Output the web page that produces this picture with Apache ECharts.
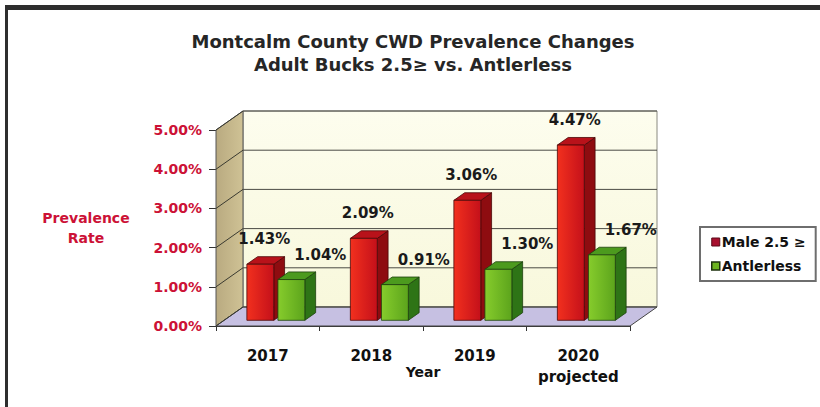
<!DOCTYPE html>
<html>
<head>
<meta charset="utf-8">
<script src="https://cdn.jsdelivr.net/npm/echarts@6/dist/echarts.min.js"></script>
<style>
  html, body { margin: 0; padding: 0; background: #ffffff; }
  #chart { width: 820px; height: 407px; }
</style>
</head>
<body>
<div id="chart"></div>
<script>
// Prevalence (%) by year
const years = ['2017', '2018', '2019', '2020\nprojected'];
const male = [1.43, 2.09, 3.06, 4.47];
const antlerless = [1.04, 0.91, 1.30, 1.67];
const seriesNames = ['Male 2.5 \u2265', 'Antlerless'];
const yMin = 0, yMax = 5, yStep = 1;

const FONT = '"DejaVu Sans", Verdana, sans-serif';
const RED_TEXT = '#cc1136';

// Pseudo-3D depth of the plot box (pixels from front plane to back wall)
const DEPTH = { x: 27, y: -19 };
const BAR_FRONT = 0.3;   // bar front face position within the depth
const BAR_DEPTH = 0.4;   // bar thickness as a share of the depth

const palettes = [
  { light: '#f2301e', dark: '#c4101a', side: '#8e0c10', top: '#b8121a', edge: '#4a0808' },
  { light: '#86cc2c', dark: '#5ca41c', side: '#2e7416', top: '#4c9a1e', edge: '#1c400c' }
];

const fmtPct = v => v.toFixed(2) + '%';

function wallsItem(params, api) {
  const cs = params.coordSys;
  const x = cs.x, y = cs.y, w = cs.width, h = cs.height;
  const dx = DEPTH.x, dy = DEPTH.y;
  const kids = [];
  // back wall
  kids.push({ type: 'rect', shape: { x: x + dx, y: y + dy, width: w, height: h },
    style: { fill: new echarts.graphic.LinearGradient(0, 0, 0, 1, [
      { offset: 0, color: '#fdfdee' }, { offset: 1, color: '#f8f8dc' }]),
      stroke: '#8a8a80', lineWidth: 1 } });
  // left side wall
  kids.push({ type: 'polygon', shape: { points: [[x, y + h], [x, y], [x + dx, y + dy], [x + dx, y + h + dy]] },
    style: { fill: new echarts.graphic.LinearGradient(0, 0, 1, 0, [
      { offset: 0, color: '#b9aa80' }, { offset: 1, color: '#cfc295' }]),
      stroke: '#555', lineWidth: 1 } });
  // floor
  kids.push({ type: 'polygon', shape: { points: [[x, y + h], [x + dx, y + h + dy], [x + w + dx, y + h + dy], [x + w, y + h]] },
    style: { fill: '#c6c0e2', stroke: '#444', lineWidth: 1 } });
  // gridlines on back wall and side wall
  for (let v = yMin; v <= yMax; v += yStep) {
    const py = api.coord([0, v])[1];
    kids.push({ type: 'line', shape: { x1: x + dx, y1: py + dy, x2: x + dx + w, y2: py + dy },
      style: { stroke: '#4a4a44', lineWidth: 1 } });
    kids.push({ type: 'line', shape: { x1: x, y1: py, x2: x + dx, y2: py + dy },
      style: { stroke: '#3a3a30', lineWidth: 1 } });
  }
  return { type: 'group', children: kids };
}

function barItem(sIdx) {
  const pal = palettes[sIdx];
  return function (params, api) {
    const cat = api.value(0), v = api.value(1);
    const band = api.size([1, 0])[0];
    const c = api.coord([cat, v]);
    const base = api.coord([cat, 0]);
    const w = band * 0.26, gap = band * 0.04;
    const fx = DEPTH.x * BAR_FRONT, fy = DEPTH.y * BAR_FRONT;
    const x0 = (sIdx === 0 ? c[0] - gap / 2 - w : c[0] + gap / 2) + fx;
    const x1 = x0 + w;
    const yTop = c[1] + fy, yBot = base[1] + fy;
    const sx = DEPTH.x * BAR_DEPTH, sy = DEPTH.y * BAR_DEPTH;
    const grad = new echarts.graphic.LinearGradient(0, 0, 1, 0, [
      { offset: 0, color: pal.light }, { offset: 1, color: pal.dark }]);
    const cx = (x0 + x1) / 2;
    const lx = sIdx === 0 ? cx + 4 : cx + 29;
    return { type: 'group', children: [
      { type: 'polygon', shape: { points: [[x1, yBot], [x1 + sx, yBot + sy], [x1 + sx, yTop + sy], [x1, yTop]] },
        style: { fill: pal.side, stroke: pal.edge, lineWidth: 0.8 } },
      { type: 'polygon', shape: { points: [[x0, yTop], [x0 + sx, yTop + sy], [x1 + sx, yTop + sy], [x1, yTop]] },
        style: { fill: pal.top, stroke: pal.edge, lineWidth: 0.8 } },
      { type: 'rect', shape: { x: x0, y: yTop, width: w, height: yBot - yTop },
        style: { fill: grad, stroke: pal.edge, lineWidth: 0.8 } },
      { type: 'text', z2: 10, style: { text: fmtPct(v), x: lx, y: yTop - 25,
        align: 'center', verticalAlign: 'middle',
        font: 'bold 15px ' + FONT, fill: '#1a1a1a' } }
    ] };
  };
}

const chart = echarts.init(document.getElementById('chart'), null, { renderer: 'svg' });

chart.setOption({
  animation: false,
  backgroundColor: '#ffffff',
  title: [{
    text: 'Montcalm County CWD Prevalence Changes\nAdult Bucks 2.5\u2265 vs. Antlerless',
    left: 413, top: 30, textAlign: 'center', padding: 0,
    textStyle: { fontFamily: FONT, fontWeight: 'bold', fontSize: 18, color: '#262626', lineHeight: 23 }
  }, {
    text: 'Prevalence\nRate',
    left: 86, top: 208, textAlign: 'center', padding: 0,
    textStyle: { fontFamily: FONT, fontWeight: 'bold', fontSize: 14, color: RED_TEXT, lineHeight: 20 }
  }],
  graphic: [
    { type: 'rect', left: 5, top: 5, shape: { width: 815, height: 5 }, style: { fill: '#2e2e2e' } },
    { type: 'rect', left: 5, top: 5, shape: { width: 3, height: 402 }, style: { fill: '#2e2e2e' } }
  ],
  legend: {
    orient: 'vertical',
    left: 700, top: 227,
    padding: [8, 10, 8, 11],
    itemGap: 10,
    itemWidth: 8, itemHeight: 8,
    icon: 'rect',
    backgroundColor: '#ffffff',
    borderColor: '#6e6e6e', borderWidth: 2,
    textStyle: { fontFamily: FONT, fontWeight: 'bold', fontSize: 14, color: '#111', padding: [0, 0, 0, -3] },
    data: [
      { name: seriesNames[0], itemStyle: { color: '#a8102e', borderColor: '#5a0818', borderWidth: 1 } },
      { name: seriesNames[1], itemStyle: { color: '#6cb41e', borderColor: '#1c300c', borderWidth: 1.5 } }
    ]
  },
  grid: { left: 216, top: 130, width: 414, height: 196, containLabel: false },
  xAxis: {
    type: 'category',
    data: years,
    name: 'Year',
    nameLocation: 'middle',
    nameGap: 39,
    nameMoveOverlap: false,
    nameTextStyle: { fontFamily: FONT, fontWeight: 'bold', fontSize: 14, color: '#111' },
    axisLine: { show: true, lineStyle: { color: '#333', width: 1 } },
    axisTick: { show: true, length: 5, lineStyle: { color: '#333' } },
    axisLabel: { interval: 0, hideOverlap: false, margin: 19, fontFamily: FONT, fontWeight: 'bold', fontSize: 15, color: '#111', lineHeight: 21, verticalAlign: 'top' },
    splitLine: { show: false }
  },
  yAxis: {
    type: 'value',
    min: yMin, max: yMax, interval: yStep,
    axisLine: { show: true, lineStyle: { color: '#333', width: 1 } },
    axisTick: { show: true, length: 7, lineStyle: { color: '#333' } },
    axisLabel: { margin: 14, formatter: v => fmtPct(v), fontFamily: FONT, fontWeight: 'bold', fontSize: 14, color: RED_TEXT },
    splitLine: { show: false }
  },
  series: [
    { type: 'custom', name: '__walls', z: 1, silent: true, renderItem: wallsItem, data: [[0, 0]] },
    { type: 'custom', name: seriesNames[0], z: 3, renderItem: barItem(0),
      itemStyle: { color: '#a8102e' },
      data: male.map((v, i) => [i, v]) },
    { type: 'custom', name: seriesNames[1], z: 4, renderItem: barItem(1),
      itemStyle: { color: '#6cb41e' },
      data: antlerless.map((v, i) => [i, v]) }
  ]
});
</script>
</body>
</html>
